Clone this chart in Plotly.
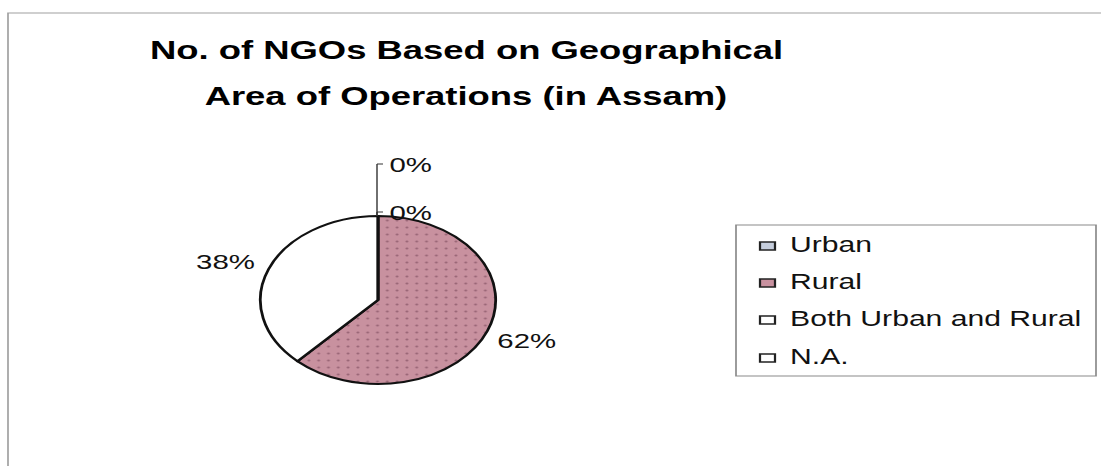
import plotly.graph_objects as go

# ---- data -------------------------------------------------------------
categories = ["Urban", "Rural", "Both Urban and Rural", "N.A."]
share_pct = [0, 62, 38, 0]
slice_colors = ["#c5cddc", "#c8919f", "#ffffff", "#ffffff"]
title_lines = ["No. of NGOs Based on Geographical", "Area of Operations (in Assam)"]

# ---- page geometry (drawn narrow, then widened horizontally) ----------
PAGE_W, FIG_H = 1101, 466
FIG_W = 786
STRETCH = PAGE_W / FIG_W

FONT = "Arial, Liberation Sans, sans-serif"


def px(x):
    """page x (pixels after widening) -> paper fraction"""
    return x / PAGE_W


def py(y):
    """page y (pixels from top) -> paper fraction"""
    return 1 - y / FIG_H


# pie placement
PIE_CX, PIE_CY, PIE_R = 378, 300, 84
PIE_RX = PIE_R * STRETCH

# where each percentage label sits (centre of the text)
label_pos = {
    "Urban": (410, 164),
    "Rural": (526, 340),
    "Both Urban and Rural": (226, 261),
    "N.A.": (410, 212),
}

fig = go.Figure()

fig.add_trace(go.Pie(
    labels=categories,
    values=share_pct,
    sort=False,
    direction="clockwise",
    rotation=0,
    textinfo="none",
    hoverinfo="label+percent",
    showlegend=False,
    domain=dict(x=[px(PIE_CX - PIE_RX), px(PIE_CX + PIE_RX)],
                y=[py(PIE_CY + PIE_R), py(PIE_CY - PIE_R)]),
    marker=dict(
        colors=slice_colors,
        line=dict(color="#111111", width=2),
        pattern=dict(shape=["", ".", "", ""],
                     bgcolor=slice_colors,
                     fgcolor="#6e3d4f",
                     fillmode="overlay",
                     size=7, solidity=0.08),
    ),
))

total = sum(share_pct)
annotations = []
shapes = []

# percentage labels
for cat, v in zip(categories, share_pct):
    lx, ly = label_pos[cat]
    annotations.append(dict(
        text=f"{round(v / total * 100)}%", x=px(lx), y=py(ly),
        xref="paper", yref="paper", xanchor="center", yanchor="middle",
        showarrow=False, font=dict(family=FONT, size=21, color="#111111"),
    ))

# leader lines for the two zero slices at the top of the pie
pie_top = PIE_CY - PIE_R
for cat, v in zip(categories, share_pct):
    if v == 0:
        _, ly = label_pos[cat]
        shapes.append(dict(type="line", xref="paper", yref="paper",
                           x0=px(PIE_CX - 1), y0=py(pie_top), x1=px(PIE_CX - 1), y1=py(ly),
                           line=dict(color="#333333", width=1)))
        shapes.append(dict(type="line", xref="paper", yref="paper",
                           x0=px(PIE_CX - 1), y0=py(ly), x1=px(PIE_CX + 5), y1=py(ly),
                           line=dict(color="#333333", width=1)))

# title
for i, line in enumerate(title_lines):
    annotations.append(dict(
        text=line, x=px(466), y=py(50 + i * 46),
        xref="paper", yref="paper", xanchor="center", yanchor="middle",
        showarrow=False,
        font=dict(family=FONT, size=26, color="#000000", weight="bold"),
    ))

# outer chart frame
shapes.append(dict(type="rect", xref="paper", yref="paper",
                   x0=px(8), y0=py(13), x1=1.05, y1=-0.05,
                   line=dict(color="#a0a0a0", width=1.2), layer="below"))

# legend box
LEG_X0, LEG_X1, LEG_Y0, LEG_Y1 = 736, 1096, 225, 376
shapes.append(dict(type="rect", xref="paper", yref="paper",
                   x0=px(LEG_X0), y0=py(LEG_Y0), x1=px(LEG_X1), y1=py(LEG_Y1),
                   line=dict(color="#8a8a8a", width=1.2), fillcolor="white"))
row_y = [245, 282, 319, 357]
for cat, col, ry in zip(categories, slice_colors, row_y):
    shapes.append(dict(type="rect", xref="paper", yref="paper",
                       x0=px(760), x1=px(775), y0=py(ry - 3), y1=py(ry + 5),
                       line=dict(color="#222222", width=1.6), fillcolor=col))
    annotations.append(dict(
        text=cat, x=px(787), y=py(ry), xref="paper", yref="paper",
        xanchor="left", yanchor="middle", showarrow=False,
        font=dict(family=FONT, size=21.5, color="#111111"),
    ))

fig.update_layout(
    width=FIG_W, height=FIG_H, autosize=False,
    margin=dict(l=0, r=0, t=0, b=0),
    paper_bgcolor="white", plot_bgcolor="white",
    showlegend=False,
    annotations=annotations,
    shapes=shapes,
)

widen = f"""
document.body.style.margin = '0';
document.body.style.overflow = 'hidden';
var gd = document.getElementById('{{plot_id}}');
gd.style.transformOrigin = '0 0';
gd.style.transform = 'scaleX({STRETCH:.5f})';
"""

fig.write_html("out.html", post_script=widen)
